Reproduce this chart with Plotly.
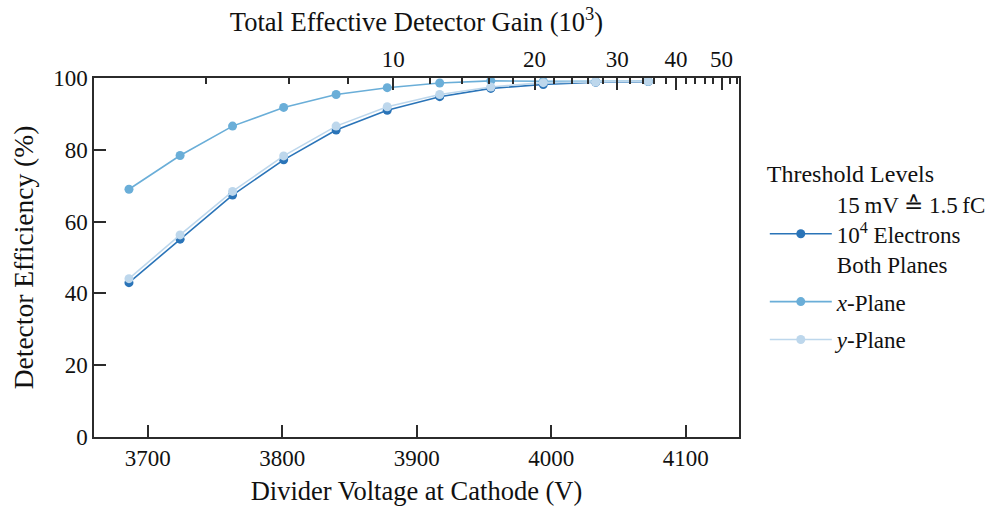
import plotly.graph_objects as go

# Divider voltage at the cathode (V)
voltage = [3686, 3724, 3763, 3801, 3840, 3878, 3917, 3955, 3994, 4033, 4072]

# Detector efficiency (%) at the 15 mV threshold
eff_both = [43.0, 55.1, 67.4, 77.2, 85.5, 91.0, 94.8, 97.1, 98.2, 98.8, 99.0]
eff_x = [69.0, 78.4, 86.6, 91.8, 95.4, 97.3, 98.6, 99.2, 99.1, 99.0, 99.1]
eff_y = [44.1, 56.3, 68.4, 78.3, 86.6, 92.0, 95.4, 97.5, 98.7, 98.9, 99.1]

# Bottom / left axis ticks
volt_ticks = [3700, 3800, 3900, 4000, 4100]
eff_ticks = [0, 20, 40, 60, 80, 100]

# Top axis: total effective gain in units of 10^3 (log scale)
gain_major = [10, 20, 30, 40, 50]
gain_minor = [4, 6, 8, 12, 14, 16, 18, 22, 24, 26, 28, 32, 34, 36, 38,
              42, 44, 46, 48, 52, 54]
gain_range_log = [0.3632, 1.7362]

series_names = [
    "15\u2009mV \u2259 1.5\u2009fC<br>10<sup>4</sup> Electrons<br>Both Planes",
    "<i>x</i>-Plane",
    "<i>y</i>-Plane",
]
series_colors = ["#2a74b8", "#6aaed8", "#bdd7ec"]

FONT = "Liberation Serif, Times New Roman, serif"
AXIS_COLOR = "#2b2b2b"
TEXT_COLOR = "#111111"


def tick_font():
    return dict(family=FONT, size=23, color=TEXT_COLOR)


def title_font(size=26.5):
    return dict(family=FONT, size=size, color=TEXT_COLOR)


fig = go.Figure()
for i, (vals, name, color) in enumerate(zip([eff_both, eff_x, eff_y],
                                            series_names, series_colors)):
    fig.add_trace(go.Scatter(
        x=voltage, y=vals, name=name, legendgroup=f"g{i}",
        mode="lines+markers",
        line=dict(color=color, width=1.6),
        marker=dict(color=color, size=9),
    ))

# carrier trace so the top gain axis is laid out
fig.add_trace(go.Scatter(x=[], y=[], xaxis="x2", yaxis="y",
                         showlegend=False, hoverinfo="skip"))

line_style = dict(
    showline=True, linecolor=AXIS_COLOR, linewidth=1.5,
    ticks="inside", tickcolor=AXIS_COLOR, tickwidth=1.5,
    showgrid=False, zeroline=False, automargin=False,
)

fig.update_layout(
    width=1008, height=506,
    margin=dict(l=94, r=269, t=78, b=69),
    paper_bgcolor="white", plot_bgcolor="white",
    font=dict(family=FONT, size=23, color=TEXT_COLOR),
    xaxis=dict(
        **line_style,
        range=[3660, 4139.5], tickvals=volt_ticks, ticklen=12,
        tickfont=tick_font(),
        title=dict(text="Divider Voltage at Cathode (V)",
                   font=title_font(), standoff=14),
    ),
    xaxis2=dict(
        **line_style,
        type="log", overlaying="x", side="top", anchor="y",
        range=gain_range_log, tickvals=gain_major,
        ticktext=[str(v) for v in gain_major], ticklen=12,
        tickfont=tick_font(),
        minor=dict(tickvals=gain_minor, ticklen=6, ticks="inside",
                   tickcolor=AXIS_COLOR, tickwidth=1.5),
        title=dict(text="Total Effective Detector Gain (10<sup>3</sup>)",
                   font=title_font(), standoff=8),
    ),
    yaxis=dict(
        **line_style,
        range=[0, 100], tickvals=eff_ticks, ticklen=12, mirror=True,
        tickfont=tick_font(),
        title=dict(text="Detector Efficiency (%)",
                   font=title_font(27.5), standoff=12),
    ),
    legend=dict(
        title=dict(text="Threshold Levels", font=dict(family=FONT, size=24)),
        font=dict(family=FONT, size=23, color=TEXT_COLOR),
        x=1.04, xanchor="left", y=0.796, yanchor="top",
        bgcolor="rgba(0,0,0,0)", itemwidth=62, tracegroupgap=5,
    ),
    showlegend=True,
)

fig.write_html("out.html")
